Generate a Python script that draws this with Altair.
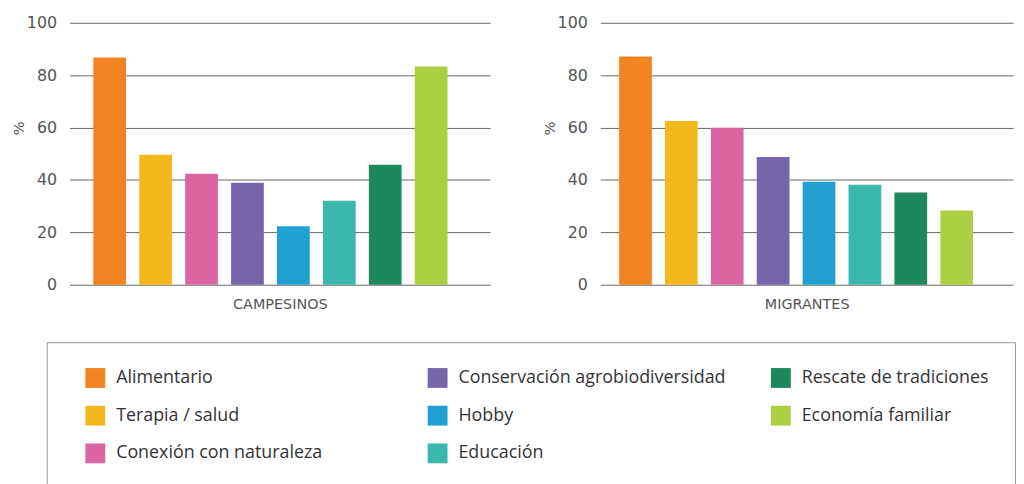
import altair as alt
import pandas as pd

categories = ["Alimentario", "Terapia / salud", "Conexión con naturaleza",
              "Conservación agrobiodiversidad", "Hobby", "Educación",
              "Rescate de tradiciones", "Economía familiar"]
campesinos = [86.7, 49.6, 42.4, 38.9, 22.3, 32.1, 45.8, 83.3]
migrantes = [87.1, 62.5, 59.9, 48.8, 39.3, 38.2, 35.2, 28.3]
colors = ["#F28322", "#F3B81E", "#DA66A1", "#7765AA",
          "#20A0D2", "#3AB8AE", "#1E875E", "#ADCF44"]
panel_titles = ["CAMPESINOS", "MIGRANTES"]
y_ticks = [0, 20, 40, 60, 80, 100]

AXIS_FONT = "DejaVu Sans"
LEG_FONT = "Open Sans"

# widen the first legend column so that the three columns keep an even pitch
pad_expr = ("datum.label == 'Conexión con naturaleza' ? "
            "datum.label + '             \u200b' : datum.label")


def panel(values, title, width, pad_outer, align):
    df = pd.DataFrame({"cat": categories, "val": values})
    return alt.Chart(df).mark_bar().encode(
        x=alt.X("cat:N", sort=categories,
                scale=alt.Scale(paddingInner=0.287, paddingOuter=pad_outer, align=align),
                axis=alt.Axis(title=title, labels=False, ticks=False, domain=False,
                              grid=False, titlePadding=13, titleFont=AXIS_FONT,
                              titleFontSize=14.5, titleFontWeight="normal",
                              titleColor="#555555")),
        y=alt.Y("val:Q", scale=alt.Scale(domain=[0, 100]),
                axis=alt.Axis(values=y_ticks, title="%", grid=True, gridColor="#666666",
                              gridWidth=1, domain=False, ticks=False, labelPadding=13,
                              labelFont=AXIS_FONT, labelFontSize=16, labelColor="#555555",
                              titleFont=AXIS_FONT, titleFontSize=15, titlePadding=0,
                              titleFontWeight="normal", titleColor="#555555",
                              titleY=106)),
        color=alt.Color("cat:N",
                        scale=alt.Scale(domain=categories, range=colors),
                        legend=alt.Legend(
                            title=None, orient="none", legendX=-23, legendY=322,
                            columns=3, columnPadding=32, rowPadding=18, padding=26,
                            strokeColor="#999999", symbolType="square", symbolSize=400,
                            symbolStrokeWidth=0, symbolOffset=13, labelOffset=11,
                            labelFont=LEG_FONT, labelFontSize=18, labelColor="#333333",
                            labelLimit=400, labelExpr=pad_expr)),
    ).properties(width=width, height=264)


left = panel(campesinos, panel_titles[0], 424, 0.7235, 0.3583)
right = panel(migrantes, panel_titles[1], 416, 0.641, 0.320)

chart = alt.hconcat(left, right, spacing=52).resolve_scale(color="shared").properties(
    autosize=alt.AutoSizeParams(type="none"),
    padding={"left": 62, "top": 12, "right": 954, "bottom": 456}
).configure_view(strokeWidth=0)

chart.save("out.html", embed_options={"renderer": "svg", "actions": False})
